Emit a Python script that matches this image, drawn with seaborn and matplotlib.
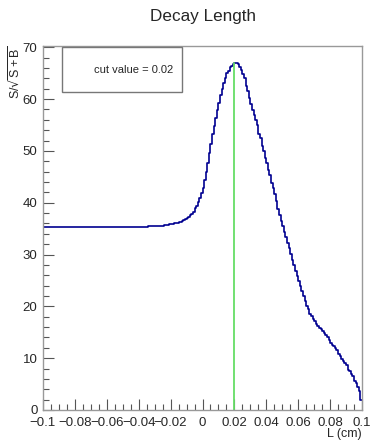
# S/sqrt(S+B) against the decay-length cut, drawn in a ROOT-like style.

import numpy as np
import pandas as pd
import matplotlib
matplotlib.use("Agg")
import matplotlib.pyplot as plt
from matplotlib.ticker import MultipleLocator
from matplotlib.patches import Rectangle
import seaborn as sns

sns.set_style("ticks")
plt.rcParams['font.family'] = ['Liberation Sans', 'DejaVu Sans']

# 200 bins from -0.1 to 0.1 cm
n_bins = 200
L_range = (-0.1, 0.1)
signif = (
    [35.3] * 24 + [35.4] * 42 + [35.5] * 6 + [35.6] * 4 + [35.7] * 3 + [35.8]
    # -0.02 .. 0
    + [35.85, 35.9, 36.0, 36.05, 36.15, 36.25, 36.35, 36.5, 36.65, 36.8,
       37.0, 37.3, 37.55, 37.9, 38.3, 38.9, 39.4, 40.2, 40.9, 41.9]
    # 0 .. 0.02
    + [42.8, 44.3, 46.0, 47.6, 49.6, 51.4, 53.2, 54.8, 56.3, 57.8,
       59.2, 60.8, 61.9, 63.2, 64.0, 65.0, 65.5, 66.1, 66.4, 66.8]
    # 0.02 .. 0.04
    + [66.9, 66.9, 66.7, 66.1, 65.6, 64.8, 64.1, 62.5, 61.6, 60.3,
       59.0, 57.9, 57.0, 55.9, 55.0, 53.2, 52.5, 50.9, 50.0, 48.6]
    # 0.04 .. 0.06
    + [47.7, 46.3, 45.3, 43.8, 42.8, 41.7, 40.3, 38.8, 37.7, 36.4,
       35.5, 34.4, 33.3, 32.2, 31.2, 30.2, 29.0, 28.0, 26.9, 25.8]
    # 0.06 .. 0.08
    + [24.9, 23.9, 23.0, 22.0, 21.1, 20.1, 19.4, 18.6, 18.1, 17.5,
       17.1, 16.6, 16.3, 15.9, 15.6, 15.2, 14.9, 14.5, 14.1, 13.5]
    # 0.08 .. 0.1
    + [12.9, 12.6, 12.3, 12.0, 11.6, 10.8, 10.4, 9.9, 9.5, 9.0,
       8.6, 7.8, 7.5, 7.0, 6.5, 5.6, 5.3, 4.4, 3.6, 2.0]
)
cut_value = 0.02
x_labels = ["\u22120.1", "\u22120.08", "\u22120.06", "\u22120.04", "\u22120.02",
            "0", "0.02", "0.04", "0.06", "0.08", "0.1"]

edges = np.linspace(L_range[0], L_range[1], n_bins + 1)
df = pd.DataFrame({"L": (edges[:-1] + edges[1:]) / 2, "signif": signif})

fig = plt.figure(figsize=(3.72, 4.41), dpi=100)
ax = fig.add_axes([43/372, 1 - 410/441, 319/372, 364/441])

sns.histplot(data=df, x="L", weights="signif", bins=n_bins, binrange=L_range,
             element="step", fill=False, color="#000090", linewidth=1.2, ax=ax)

# green line marking the best cut
peak = max(signif)
ax.plot([cut_value, cut_value], [0, peak], color="#66dd66", lw=1.3)

ax.set_xlim(*L_range)
ax.set_ylim(0, peak * 1.05)
ax.set_xlabel("")
ax.set_ylabel("")

ax.xaxis.set_minor_locator(MultipleLocator(0.005))
ax.yaxis.set_major_locator(MultipleLocator(10))
ax.yaxis.set_minor_locator(MultipleLocator(2))
ax.set_xticks(np.linspace(L_range[0], L_range[1], len(x_labels)))
ax.set_xticklabels(x_labels)
ax.tick_params(which="major", direction="in", length=8, width=0.8, color="#555555",
               labelsize=9.5, pad=4)
ax.tick_params(which="minor", direction="in", length=4, width=0.8, color="#555555")
ax.tick_params(axis="x", which="major", pad=5)
for s in ax.spines.values():
    s.set_color("#999999")
    s.set_linewidth(1.0)

fig.text(203/372, 1 - 16/441, "Decay Length", ha="center", va="center", fontsize=12.3)
fig.text(15/372, 1 - 45/441, r"S/$\sqrt{\mathregular{S+B}}$", rotation=90,
         ha="center", va="top", fontsize=9)
fig.text(362/372, 1 - 434/441, "L (cm)", ha="right", va="center", fontsize=9)

# the cut value box
box = Rectangle((62/372, 1 - 92/441), 120/372, 45/441, transform=fig.transFigure,
                facecolor="white", edgecolor="#777777", lw=1.0, zorder=5)
fig.add_artist(box)
fig.text(134/372, 1 - 70/441, "cut value = 0.02", ha="center", va="center",
         fontsize=8, zorder=6)

fig.savefig("out.png", dpi=100)
